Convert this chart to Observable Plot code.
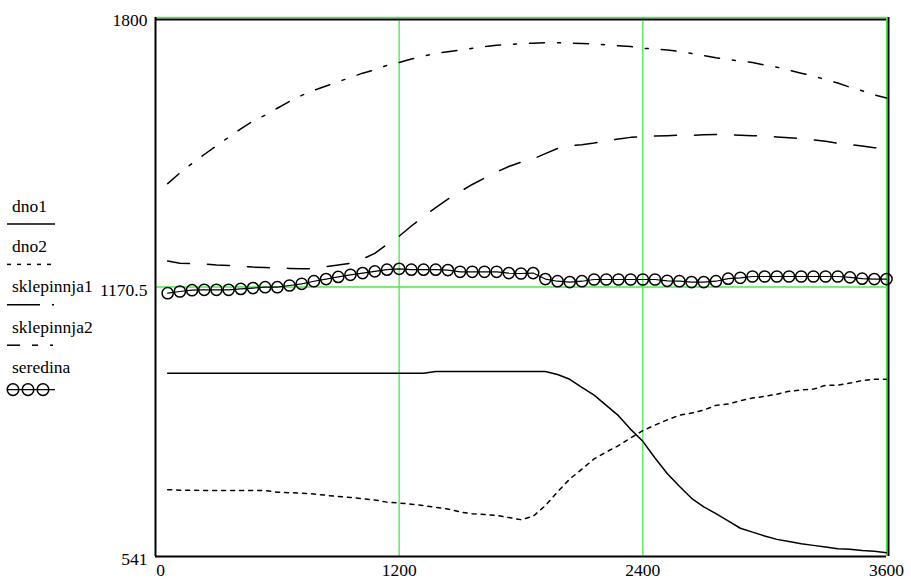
<!DOCTYPE html>
<html><head><meta charset="utf-8">
<script src="https://cdn.jsdelivr.net/npm/d3@7"></script>
<script src="https://cdn.jsdelivr.net/npm/@observablehq/plot@0.6"></script>
<style>
html,body{margin:0;padding:0;background:#fff;}
#wrap{position:relative;width:911px;height:580px;font-family:"Liberation Serif";}
#wrap svg{display:block;}
#wrap text{font-family:"Liberation Serif";}
#legend{position:absolute;left:0;top:0;}
</style></head><body><div id="wrap"></div>
<script>
const time = [60,120,180,240,300,360,420,480,540,600,660,720,780,840,900,960,1020,1080,1140,1200,
  1260,1320,1380,1440,1500,1560,1620,1680,1740,1800,1860,1920,1980,2040,2100,2160,2220,2280,2340,2400,
  2460,2520,2580,2640,2700,2760,2820,2880,2940,3000,3060,3120,3180,3240,3300,3360,3420,3480,3540,3600];

const dno1 = [969,969,969,969,969,969,969,969,969,969,969,969,969,969,969,969,969,969,969,969,
  969,969,973,973,973,973,973,973,973,973,973,973,966,955,936,918,894,870,838,810,
  771,735,705,677,657,641,624,607,598,589,581,576,571,567,563,559,558,555,553,550];

const dno2 = [697,696,696,695,695,695,695,695,695,691,690,689,687,684,681,679,676,673,668,666,
  663,660,656,652,645,641,639,637,632,627,635,660,692,722,745,769,785,800,818,835,
  848,860,871,876,883,894,897,905,911,915,920,927,930,932,941,941,946,952,955,955];

const sklepinnja1 = [1412,1437,1459,1480,1500,1520,1540,1558,1572,1588,1604,1618,1630,1640,1650,1660,1670,1678,1688,1695,
  1703,1710,1716,1720,1724,1728,1732,1735,1737,1739,1740,1741,1741,1740,1739,1738,1736,1734,1732,1728,
  1727,1724,1721,1716,1711,1706,1702,1698,1695,1689,1684,1677,1670,1663,1655,1647,1637,1629,1619,1612];

const sklepinnja2 = [1231,1226,1225,1224,1222,1221,1219,1217,1216,1215,1214,1213,1213,1218,1222,1226,1236,1249,1270,1289,
  1313,1335,1356,1376,1393,1410,1425,1439,1452,1462,1470,1482,1494,1500,1503,1507,1512,1516,1520,1522,
  1523,1524,1525,1525,1526,1527,1526,1525,1524,1523,1521,1519,1517,1514,1511,1506,1503,1500,1496,1492];

const seredina = [1156,1160,1163,1164,1164,1164,1166,1168,1170,1170,1174,1178,1184,1189,1194,1199,1203,1207,1211,1213,
  1211,1211,1211,1210,1206,1206,1206,1206,1203,1202,1203,1189,1184,1182,1184,1188,1188,1188,1188,1188,
  1188,1185,1184,1182,1182,1184,1190,1192,1195,1195,1195,1195,1195,1195,1195,1195,1193,1190,1189,1189];

const seriesNames = ["dno1", "dno2", "sklepinnja1", "sklepinnja2", "seredina"];
const xTicks = [0, 1200, 2400, 3600];
const yTicks = [541, 1170.5, 1800];
const xGrid = [1200, 2400, 3600];
const yGrid = [1170.5, 1800];

const toRows = vals => time.map((t, i) => ({t, v: vals[i]}));

const green = "#44ee44";
const fmt = d => String(d);
const serif = "Liberation Serif";

const plot = Plot.plot({
  width: 911, height: 580,
  marginLeft: 155, marginRight: 25, marginTop: 17, marginBottom: 24,
  x: {domain: [0, 3600], axis: null, label: null},
  y: {domain: [541, 1800], axis: null, label: null},
  style: {fontFamily: serif, fontSize: "17.5px", background: "white", color: "black", overflow: "visible"},
  marks: [
    Plot.ruleX(xGrid, {stroke: green, strokeWidth: 1.3}),
    Plot.ruleY(yGrid, {stroke: green, strokeWidth: 1.3}),
    Plot.ruleX([0], {stroke: "black", strokeWidth: 2}),
    Plot.ruleY([541], {stroke: "black", strokeWidth: 2}),
    Plot.ruleX([3600], {stroke: "black", strokeWidth: 2, dx: 2}),
    Plot.ruleY([1800], {stroke: "black", strokeWidth: 2, dy: 2}),
    Plot.line(toRows(dno1), {x: "t", y: "v", stroke: "black", strokeWidth: 1.5}),
    Plot.line(toRows(dno2), {x: "t", y: "v", stroke: "black", strokeWidth: 1.5, strokeDasharray: "4,5"}),
    Plot.line(toRows(sklepinnja1), {x: "t", y: "v", stroke: "black", strokeWidth: 1.5, strokeDasharray: "15,13,3,13"}),
    Plot.line(toRows(sklepinnja2), {x: "t", y: "v", stroke: "black", strokeWidth: 1.5, strokeDasharray: "22,18"}),
    Plot.line(toRows(seredina), {x: "t", y: "v", stroke: "black", strokeWidth: 1.2}),
    Plot.dot(toRows(seredina), {x: "t", y: "v", r: 5.6, stroke: "black", strokeWidth: 1.5, fill: "none"}),
    Plot.axisY(yTicks, {tickSize: 0, tickPadding: 8, dy: 3, tickFormat: fmt, fontSize: 17.5, label: null, fontFamily: serif}),
    Plot.axisX([0], {tickSize: 0, tickPadding: 7, dx: 5, tickFormat: fmt, fontSize: 17.5, label: null, fontFamily: serif}),
    Plot.axisX(xTicks.slice(1), {tickSize: 0, tickPadding: 7, tickFormat: fmt, fontSize: 17.5, label: null, fontFamily: serif})
  ]
});

const wrap = document.getElementById("wrap");
wrap.appendChild(plot);

// legend on the left
const lg = d3.select(wrap).append("svg").attr("id", "legend")
  .attr("width", 150).attr("height", 580);

const baseY = 211.5, step = 40.4;
seriesNames.forEach((name, i) => {
  const by = baseY + i * step;
  lg.append("text").attr("x", 12).attr("y", by).attr("fill", "black")
    .attr("font-family", serif).attr("font-size", 17.5).text(name);
  const ly = by + 12.5 + (i === 4 ? 4 : 0);
  const segs = i === 0 ? [[7, 55]]
    : i === 1 ? [[7, 11], [17, 21], [27, 31], [37, 41], [47, 51]]
    : i === 2 ? [[7, 40], [52, 54]]
    : i === 3 ? [[7, 20], [32, 38], [50, 53]]
    : [[7, 55]];
  segs.forEach(([a, b]) => lg.append("line").attr("x1", a).attr("x2", b)
    .attr("y1", ly).attr("y2", ly).attr("stroke", "black").attr("stroke-width", i === 4 ? 1.2 : 1.5));
  if (i === 4) {
    [13, 28, 43].forEach(cx => lg.append("circle").attr("cx", cx).attr("cy", ly).attr("r", 5.8)
      .attr("fill", "none").attr("stroke", "black").attr("stroke-width", 1.5));
  }
});
</script></body></html>
